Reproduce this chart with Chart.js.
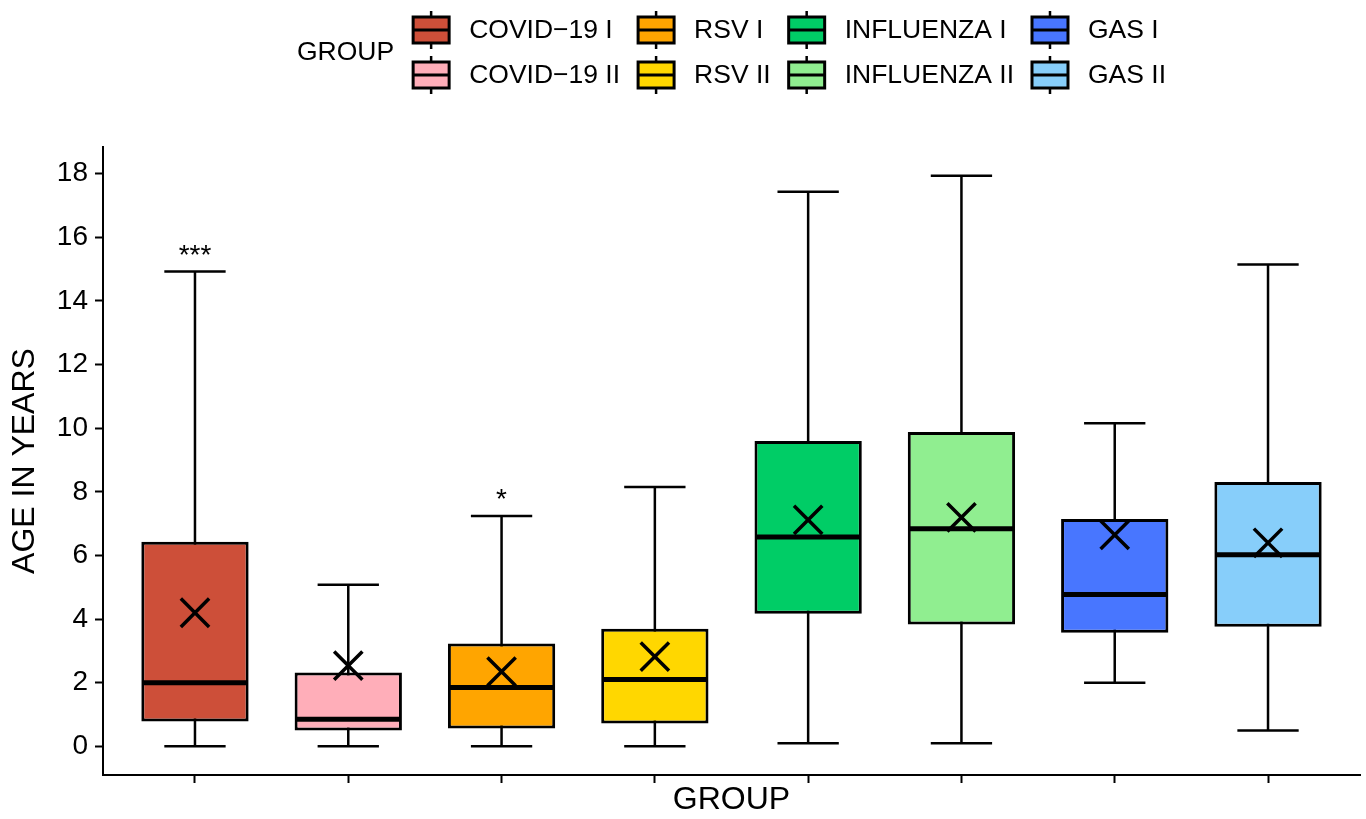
<!DOCTYPE html>
<html>
<head>
<meta charset="utf-8">
<script src="https://cdn.jsdelivr.net/npm/chart.js@4.4.0/dist/chart.umd.min.js"></script>
<style>
  html, body { margin: 0; padding: 0; background: #fff; }
  #wrap { width: 1366px; height: 819px; }
</style>
</head>
<body>
<div id="wrap"><canvas id="myChart"></canvas></div>
<script>
// values (age in years)
const groups = ["COVID−19 I", "COVID−19 II", "RSV I", "RSV II", "INFLUENZA I", "INFLUENZA II", "GAS I", "GAS II"];
const whiskerLow = [0, 0, 0, 0, 0.1, 0.1, 2.0, 0.5];
const q1 = [0.78, 0.5, 0.56, 0.72, 4.17, 3.83, 3.57, 3.76];
const medians = [2.0, 0.85, 1.85, 2.1, 6.58, 6.84, 4.77, 6.02];
const q3 = [6.43, 2.32, 3.23, 3.7, 9.6, 9.88, 7.15, 8.31];
const whiskerHigh = [14.93, 5.08, 7.24, 8.15, 17.43, 17.94, 10.16, 15.15];
const means = [4.2, 2.54, 2.35, 2.82, 7.12, 7.2, 6.65, 6.4];
const signif = ["***", "", "*", "", "", "", "", ""];
const yTicks = [0, 2, 4, 6, 8, 10, 12, 14, 16, 18];
const colors = ["#CD4F39", "#FFAEB9", "#FFA500", "#FFD700", "#00CD66", "#90EE90", "#4876FF", "#87CEFA"];

const FONT = "'Liberation Sans', Arial, Helvetica, sans-serif";

// whiskers, medians, significance stars and the legend
const boxExtras = {
  id: "boxExtras",
  beforeDatasetsDraw(chart) {
    const { ctx, scales: { x, y } } = chart;
    const step = x.getPixelForValue(2) - x.getPixelForValue(1);
    const half = step * 0.2;
    ctx.save();
    ctx.strokeStyle = "#000";
    ctx.lineWidth = 2.5;
    groups.forEach((g, i) => {
      const cx = x.getPixelForValue(i + 1);
      const lo = y.getPixelForValue(whiskerLow[i]);
      const hi = y.getPixelForValue(whiskerHigh[i]);
      ctx.beginPath();
      ctx.moveTo(cx, lo); ctx.lineTo(cx, hi);
      ctx.moveTo(cx - half, lo); ctx.lineTo(cx + half, lo);
      ctx.moveTo(cx - half, hi); ctx.lineTo(cx + half, hi);
      ctx.stroke();
    });
    ctx.restore();
  },
  afterDatasetDraw(chart, args) {
    if (args.meta.type !== "bar") return;
    const { ctx, scales: { y } } = chart;
    ctx.save();
    ctx.strokeStyle = "#000";
    ctx.lineWidth = 5;
    args.meta.data.forEach((bar, i) => {
      const py = y.getPixelForValue(medians[i]);
      ctx.beginPath();
      ctx.moveTo(bar.x - bar.width / 2 + 1, py);
      ctx.lineTo(bar.x + bar.width / 2 - 1, py);
      ctx.stroke();
    });
    ctx.restore();
  },
  afterDatasetsDraw(chart) {
    const { ctx, scales: { x, y } } = chart;
    ctx.save();
    ctx.fillStyle = "#000";
    ctx.font = "28px " + FONT;
    ctx.textAlign = "center";
    ctx.textBaseline = "alphabetic";
    signif.forEach((s, i) => {
      if (!s) return;
      const py = y.getPixelForValue(whiskerHigh[i] + 0.75);
      ctx.fillText(s, x.getPixelForValue(i + 1), py + 16);
    });
    ctx.restore();
  },
  afterDraw(chart) {
    const { ctx, chartArea } = chart;
    ctx.save();
    ctx.font = "26.5px " + FONT;
    ctx.textBaseline = "middle";
    ctx.fillStyle = "#000";
    const rows = [30, 75];
    const keyW = 36, keyH = 26, textOff = 56, colGap = 18;
    const cols = [];
    for (let c = 0; c < groups.length / 2; c++) {
      const w = Math.max(ctx.measureText(groups[2 * c]).width, ctx.measureText(groups[2 * c + 1]).width);
      cols.push(textOff + w);
    }
    const titleW = ctx.measureText("GROUP").width;
    const total = titleW + 19 + cols.reduce((a, b) => a + b, 0) + colGap * (cols.length - 1);
    let px = (chartArea.left + chartArea.right) / 2 - total / 2;
    ctx.textAlign = "left";
    ctx.fillText("GROUP", px, (rows[0] + rows[1]) / 2);
    px += titleW + 19;
    cols.forEach((w, c) => {
      rows.forEach((ry, r) => {
        const idx = 2 * c + r;
        const top = ry - keyH / 2;
        ctx.strokeStyle = "#000";
        ctx.lineWidth = 2.5;
        ctx.beginPath();
        ctx.moveTo(px + keyW / 2, top - 6); ctx.lineTo(px + keyW / 2, top);
        ctx.moveTo(px + keyW / 2, top + keyH); ctx.lineTo(px + keyW / 2, top + keyH + 6);
        ctx.stroke();
        ctx.fillStyle = colors[idx];
        ctx.fillRect(px, top, keyW, keyH);
        ctx.lineWidth = 3;
        ctx.strokeRect(px, top, keyW, keyH);
        ctx.beginPath();
        ctx.moveTo(px, ry); ctx.lineTo(px + keyW, ry);
        ctx.stroke();
        ctx.fillStyle = "#000";
        ctx.fillText(groups[idx], px + textOff, ry + 1);
      });
      px += w + colGap;
    });
    ctx.restore();
  }
};

const ctx = document.getElementById("myChart").getContext("2d");
const chart = new Chart(ctx, {
  type: "bar",
  data: {
    datasets: [
      {
        type: "bar",
        data: groups.map((g, i) => ({ x: i + 1, y: [q1[i], q3[i]] })),
        backgroundColor: colors,
        borderColor: "#000",
        borderWidth: 3,
        borderSkipped: false,
        barPercentage: 0.7,
        categoryPercentage: 1,
        order: 2,
      },
      {
        type: "scatter",
        data: groups.map((g, i) => ({ x: i + 1, y: means[i] })),
        pointStyle: "crossRot",
        pointRadius: 20,
        borderColor: "#000",
        backgroundColor: "#000",
        borderWidth: 3.5,
        order: 1,
      },
    ],
  },
  options: {
    responsive: true,
    maintainAspectRatio: false,
    animation: false,
    events: [],
    layout: { autoPadding: false, padding: { top: 147, right: 6, left: 0, bottom: 0 } },
    plugins: {
      legend: { display: false },
      tooltip: { enabled: false },
    },
    scales: {
      x: {
        type: "linear",
        min: 0.4,
        max: 8.6,
        offset: false,
        afterBuildTicks: (s) => { s.ticks = groups.map((g, i) => ({ value: i + 1 })); },
        afterFit: (s) => { s.height = 44; },
        border: { display: true, color: "#000", width: 2 },
        grid: { offset: false, drawOnChartArea: false, drawTicks: true, tickLength: 8, tickColor: "#000", tickWidth: 2 },
        ticks: { display: false },
        title: { display: true, text: "GROUP", color: "#000", font: { family: FONT, size: 32 }, padding: 0 },
      },
      y: {
        min: -0.9,
        max: 18.84,
        afterBuildTicks: (s) => { s.ticks = yTicks.map((v) => ({ value: v })); },
        afterFit: (s) => { s.width = 103; },
        border: { display: true, color: "#000", width: 2 },
        grid: { drawOnChartArea: false, drawTicks: true, tickLength: 8, tickColor: "#000", tickWidth: 2 },
        ticks: { color: "#000", font: { family: FONT, size: 28 }, padding: 7 },
        title: { display: true, text: "AGE IN YEARS", color: "#000", font: { family: FONT, size: 32 }, padding: { top: 6, bottom: 0 } },
      },
    },
  },
  plugins: [boxExtras],
});
</script>
</body>
</html>
